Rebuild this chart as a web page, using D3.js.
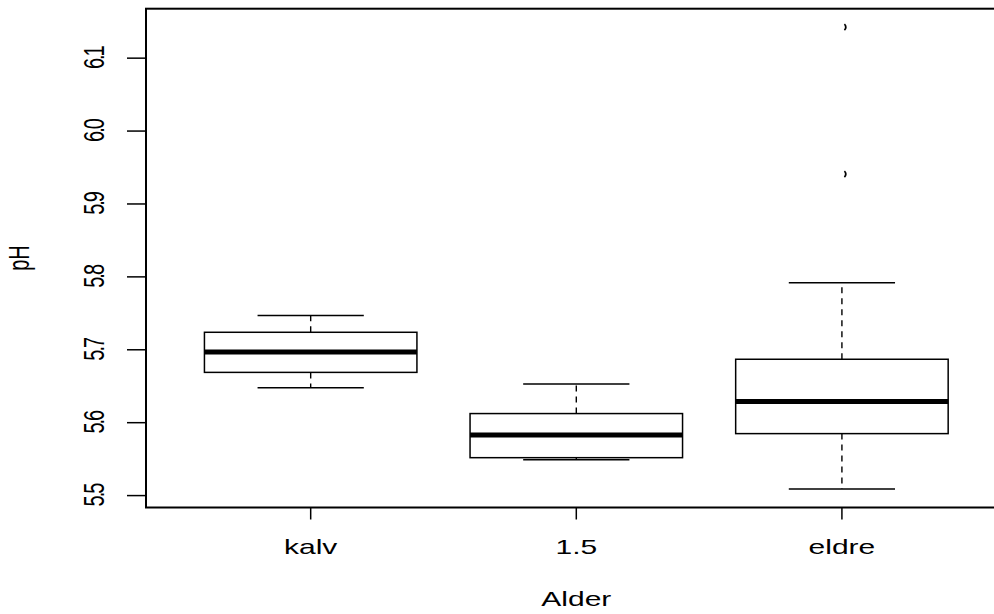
<!DOCTYPE html>
<html>
<head>
<meta charset="utf-8">
<script src="https://cdn.jsdelivr.net/npm/d3@7"></script>
<style>
body { margin: 0; background: #fff; }
text { font-family: "Liberation Sans", Arial, sans-serif; fill: #000; }
</style>
</head>
<body>
<svg id="chart" width="994" height="614"></svg>
<script>
// boxplot stats: pH per age group
var groups = ["kalv", "1.5", "eldre"];
var lowWhisk = [5.648, 5.549, 5.509];
var q1 = [5.669, 5.552, 5.585];
var medians = [5.697, 5.583, 5.629];
var q3 = [5.724, 5.6125, 5.687];
var highWhisk = [5.747, 5.653, 5.792];
var outliers = [[], [], [5.941, 6.1425]];
var yTicks = [5.5, 5.6, 5.7, 5.8, 5.9, 6.0, 6.1];

var svg = d3.select("#chart");

// R style range with 4% padding
var lo = d3.min(lowWhisk), hi = d3.max(outliers.flat().concat(highWhisk));
var pad = (hi - lo) * 0.04;
var y = d3.scaleLinear().domain([lo - pad, hi + pad]).range([507.5, 8.7]);
var x = d3.scaleLinear().domain([0.38, 3.62]).range([146, 1006.6]);

var data = groups.map(function (g, i) {
	return {name: g, pos: i + 1, lw: lowWhisk[i], q1: q1[i], med: medians[i], q3: q3[i], hw: highWhisk[i], out: outliers[i]};
});

// whiskers (dashed)
var bx = svg.append("g").selectAll("g").data(data).enter().append("g");
bx.append("line")
	.attr("x1", d => x(d.pos)).attr("x2", d => x(d.pos))
	.attr("y1", d => y(d.q3)).attr("y2", d => y(d.hw))
	.attr("stroke", "#000").attr("stroke-width", 1.4).attr("stroke-dasharray", "6,5");
bx.append("line")
	.attr("x1", d => x(d.pos)).attr("x2", d => x(d.pos))
	.attr("y1", d => y(d.q1)).attr("y2", d => y(d.lw))
	.attr("stroke", "#000").attr("stroke-width", 1.4).attr("stroke-dasharray", "6,5");
// staples
["hw", "lw"].forEach(function (k) {
	bx.append("line")
		.attr("x1", d => x(d.pos - 0.2)).attr("x2", d => x(d.pos + 0.2))
		.attr("y1", d => y(d[k])).attr("y2", d => y(d[k]))
		.attr("stroke", "#000").attr("stroke-width", 1.5);
});
// boxes
bx.append("rect")
	.attr("x", d => x(d.pos - 0.4)).attr("width", x(1.4) - x(0.6))
	.attr("y", d => y(d.q3)).attr("height", d => y(d.q1) - y(d.q3))
	.attr("fill", "#fff").attr("stroke", "#000").attr("stroke-width", 1.5);
bx.append("line")
	.attr("x1", d => x(d.pos - 0.4)).attr("x2", d => x(d.pos + 0.4))
	.attr("y1", d => y(d.med)).attr("y2", d => y(d.med))
	.attr("stroke", "#000").attr("stroke-width", 5);

// outliers - tiny circles, only the right edge survives
var arc = d3.arc().innerRadius(3).outerRadius(4.8).startAngle(Math.PI * 0.22).endAngle(Math.PI * 0.78);
bx.each(function (d) {
	d3.select(this).selectAll("path").data(d.out).enter().append("path")
		.attr("d", arc)
		.attr("transform", v => "translate(" + x(d.pos) + "," + y(v) + ")")
		.attr("fill", "#000");
});

// frame
svg.append("rect")
	.attr("x", x(0.38)).attr("y", y.range()[1])
	.attr("width", x(3.62) - x(0.38)).attr("height", y.range()[0] - y.range()[1])
	.attr("fill", "none").attr("stroke", "#000").attr("stroke-width", 2);

// y axis ticks + labels
var ya = svg.append("g");
ya.selectAll("line").data(yTicks).enter().append("line")
	.attr("x1", 127).attr("x2", x(0.38))
	.attr("y1", d => y(d)).attr("y2", d => y(d))
	.attr("stroke", "#000").attr("stroke-width", 1.5);
ya.selectAll("text").data(yTicks).enter().append("text")
	.attr("transform", d => "translate(104," + y(d) + ") scale(1.5,1) rotate(-90)")
	.attr("text-anchor", "middle")
	.attr("font-size", 20)
	.attr("letter-spacing", -2)
	.text(d => d3.format(".1f")(d));

// x axis ticks + labels
var xa = svg.append("g");
xa.selectAll("line").data(data).enter().append("line")
	.attr("x1", d => x(d.pos)).attr("x2", d => x(d.pos))
	.attr("y1", y.range()[0]).attr("y2", 519.5)
	.attr("stroke", "#000").attr("stroke-width", 1.5);
xa.selectAll("text").data(data).enter().append("text")
	.attr("transform", d => "translate(" + x(d.pos) + ",554) scale(1.5,1)")
	.attr("text-anchor", "middle")
	.attr("font-size", 20)
	.text(d => d.name);

// axis titles
svg.append("text")
	.attr("transform", "translate(" + x(2) + ",606) scale(1.5,1)")
	.attr("text-anchor", "middle").attr("font-size", 20)
	.text("Alder");
svg.append("text")
	.attr("transform", "translate(29," + ((y.range()[0] + y.range()[1]) / 2) + ") scale(1.5,1) rotate(-90)")
	.attr("text-anchor", "middle").attr("font-size", 20)
	.text("pH");
</script>
</body>
</html>
